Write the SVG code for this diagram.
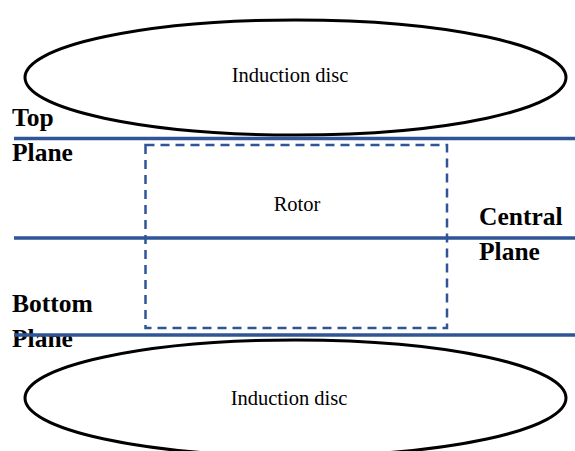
<svg xmlns="http://www.w3.org/2000/svg" width="575" height="451" viewBox="0 0 575 451">
<style>
.disc{fill:#fff;stroke:#000;stroke-width:3}
.plane{stroke:#2F5597;stroke-width:3.5;fill:none}
.rotor{fill:none;stroke:#2F5597;stroke-width:2.5;stroke-dasharray:9,6}
.t{font-family:"Liberation Serif","Times New Roman",serif;font-size:20.5px;fill:#000}
.b{font-family:"Liberation Serif","Times New Roman",serif;font-size:25.5px;font-weight:bold;fill:#000}
</style>
<rect width="575" height="451" fill="#fff"/>
<g id="disc-top">
<ellipse class="disc" cx="295.5" cy="77.5" rx="270.5" ry="57.5"/>
<text class="t" x="290" y="82" text-anchor="middle">Induction disc</text>
</g>
<g id="disc-bottom">
<ellipse class="disc" cx="295.5" cy="398" rx="270.5" ry="58"/>
<text class="t" x="289" y="405" text-anchor="middle">Induction disc</text>
</g>
<g id="labels">
<text class="b" x="12" y="126">Top</text>
<text class="b" x="12" y="161">Plane</text>
<text class="b" x="479" y="225">Central</text>
<text class="b" x="479" y="260">Plane</text>
<text class="b" x="12" y="312">Bottom</text>
<text class="b" x="12" y="347">Plane</text>
</g>
<g id="planes">
<line class="plane" x1="14" y1="138.5" x2="575" y2="138.5"/>
<line class="plane" x1="14" y1="238" x2="575" y2="238"/>
<line class="plane" x1="14" y1="335" x2="575" y2="335"/>
</g>
<g id="rotor">
<rect class="rotor" x="145.5" y="145" width="301.5" height="183"/>
<text class="t" x="297" y="211" text-anchor="middle">Rotor</text>
</g>
</svg>
